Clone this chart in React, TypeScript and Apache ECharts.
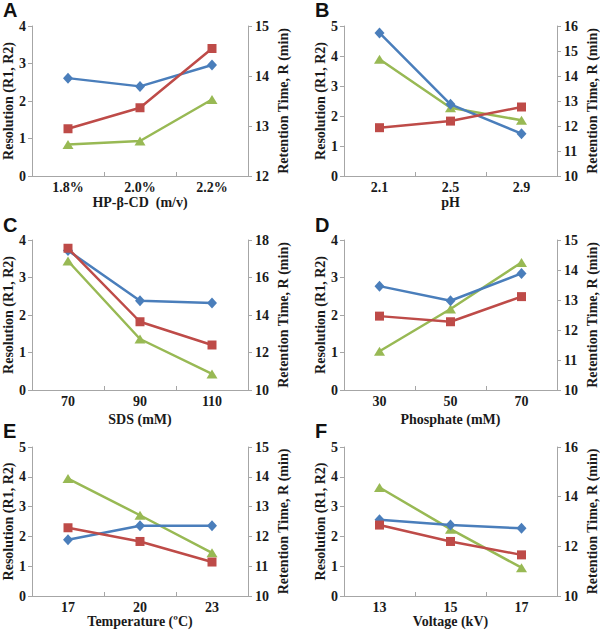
import React, { useEffect, useRef } from "react";
import * as echarts from "echarts";

// ---- Data ----
const panelLetters = ["A", "B", "C", "D", "E", "F"];
const xCategoriesA = ["1.8%", "2.0%", "2.2%"];
const xCategoriesB = ["2.1", "2.5", "2.9"];
const xCategoriesC = ["70", "90", "110"];
const xCategoriesD = ["30", "50", "70"];
const xCategoriesE = ["17", "20", "23"];
const xCategoriesF = ["13", "15", "17"];
const xTitles = ["HP-β-CD  (m/v)", "pH", "SDS (mM)", "Phosphate (mM)", "Temperature (ºC)", "Voltage (kV)"];

// Resolution R1 (blue), R2 (red) on left axis; retention time (green) on right axis
const r1A = [2.61, 2.39, 2.96];
const r2A = [1.26, 1.82, 3.4];
const rtA = [12.63, 12.7, 13.53];

const r1B = [4.77, 2.39, 1.41];
const r2B = [1.61, 1.83, 2.3];
const rtB = [14.67, 12.73, 12.23];

const r1C = [3.72, 2.38, 2.32];
const r2C = [3.78, 1.82, 1.2];
const rtC = [16.88, 12.72, 10.86];

const r1D = [2.77, 2.38, 3.11];
const r2D = [1.97, 1.82, 2.49];
const rtD = [11.29, 12.7, 14.25];

const r1E = [1.89, 2.36, 2.36];
const r2E = [2.29, 1.83, 1.14];
const rtE = [13.94, 12.71, 11.45];

const r1F = [2.56, 2.38, 2.27];
const r2F = [2.38, 1.83, 1.38];
const rtF = [14.37, 12.69, 11.14];

const leftMax = [4, 5, 4, 4, 5, 5];
const rightMin = [12, 10, 10, 10, 10, 10];
const rightMax = [15, 16, 18, 15, 15, 16];
const rightInterval = [1, 1, 2, 1, 1, 2];

const leftTitle = "Resolution (R1, R2)";
const rightTitle = "Retention Time, R (min)";

export default function App() {
  const ref = useRef<HTMLDivElement>(null);
  useEffect(() => {
    if (!ref.current) return;
    const chart = echarts.init(ref.current, undefined, { renderer: "svg" });
    const cats = [xCategoriesA, xCategoriesB, xCategoriesC, xCategoriesD, xCategoriesE, xCategoriesF];
    const r1 = [r1A, r1B, r1C, r1D, r1E, r1F];
    const r2 = [r2A, r2B, r2C, r2D, r2E, r2F];
    const rt = [rtA, rtB, rtC, rtD, rtE, rtF];

    const gridPos = [
      { left: 32, top: 26, width: 216, height: 150 },
      { left: 344, top: 26, width: 215, height: 150 },
      { left: 32, top: 240, width: 216, height: 150 },
      { left: 344, top: 240, width: 216, height: 150 },
      { left: 32, top: 447, width: 216, height: 149 },
      { left: 344, top: 447, width: 215, height: 149 },
    ];
    const xNameGaps = [19, 19, 22, 22, 16, 16];
    const letterPos = [
      { x: 3, y: 0 },
      { x: 315, y: 0 },
      { x: 3, y: 215 },
      { x: 315, y: 215 },
      { x: 3, y: 421 },
      { x: 315, y: 421 },
    ];

    const font = "Liberation Serif";
    const axisColor = "#a6a6a6";
    const textColor = "#1a1a1a";
    const blue = "#4a7ebb";
    const red = "#be4b48";
    const green = "#98b954";

    const grid: any[] = [];
    const xAxis: any[] = [];
    const yAxis: any[] = [];
    const series: any[] = [];
    const graphic: any[] = [];

    for (let i = 0; i < 6; i++) {
      grid.push({ ...gridPos[i], containLabel: false });
      xAxis.push({
        type: "category",
        gridIndex: i,
        data: cats[i],
        boundaryGap: true,
        name: xTitles[i],
        nameLocation: "middle",
        nameGap: xNameGaps[i],
        nameTextStyle: { fontFamily: font, fontWeight: "bold", fontSize: 14, color: textColor },
        axisLine: { show: true, lineStyle: { color: axisColor, width: 1 } },
        axisTick: { show: true, inside: true, length: 4, lineStyle: { color: axisColor } },
        axisLabel: { fontFamily: font, fontWeight: "bold", fontSize: 14, color: textColor, margin: 4 },
        splitLine: { show: false },
      });
      yAxis.push({
        type: "value",
        gridIndex: i,
        position: "left",
        min: 0,
        max: leftMax[i],
        interval: 1,
        name: leftTitle,
        nameLocation: "middle",
        nameRotate: 90,
        nameGap: 17,
        nameTextStyle: { fontFamily: font, fontWeight: "bold", fontSize: 14, color: textColor },
        axisLine: { show: true, lineStyle: { color: axisColor, width: 1 } },
        axisTick: { show: true, length: 4, lineStyle: { color: axisColor } },
        axisLabel: { fontFamily: font, fontWeight: "bold", fontSize: 14, color: textColor, margin: 6 },
        splitLine: { show: false },
      });
      yAxis.push({
        type: "value",
        gridIndex: i,
        position: "right",
        min: rightMin[i],
        max: rightMax[i],
        interval: rightInterval[i],
        name: rightTitle,
        nameLocation: "middle",
        nameRotate: 90,
        nameGap: 28,
        nameTextStyle: { fontFamily: font, fontWeight: "bold", fontSize: 14, color: textColor },
        axisLine: { show: true, lineStyle: { color: axisColor, width: 1 } },
        axisTick: { show: true, length: 4, lineStyle: { color: axisColor } },
        axisLabel: { fontFamily: font, fontWeight: "bold", fontSize: 14, color: textColor, margin: 7 },
        splitLine: { show: false },
      });
      series.push({
        type: "line",
        name: "R1",
        xAxisIndex: i,
        yAxisIndex: 2 * i,
        data: r1[i],
        symbol: "diamond",
        symbolSize: [10, 11],
        lineStyle: { color: blue, width: 2.5 },
        itemStyle: { color: blue },
        z: 3,
      });
      series.push({
        type: "line",
        name: "R2",
        xAxisIndex: i,
        yAxisIndex: 2 * i,
        data: r2[i],
        symbol: "rect",
        symbolSize: 9,
        lineStyle: { color: red, width: 2.5 },
        itemStyle: { color: red },
        z: 4,
      });
      series.push({
        type: "line",
        name: "Retention",
        xAxisIndex: i,
        yAxisIndex: 2 * i + 1,
        data: rt[i],
        symbol: "triangle",
        symbolSize: [11, 9],
        lineStyle: { color: green, width: 2.5 },
        itemStyle: { color: green },
        z: 2,
      });
      graphic.push({
        type: "text",
        left: letterPos[i].x,
        top: letterPos[i].y,
        style: {
          text: panelLetters[i],
          font: "bold 20px 'Liberation Sans', Arial, sans-serif",
          fill: "#111",
        },
      });
    }

    chart.setOption({
      animation: false,
      backgroundColor: "#ffffff",
      grid,
      xAxis,
      yAxis,
      series,
      graphic,
    });
    return () => chart.dispose();
  }, []);
  return (
    <div
      ref={ref}
      style={{ position: "fixed", left: 0, top: 0, width: 600, height: 637, background: "#fff" }}
    />
  );
}
